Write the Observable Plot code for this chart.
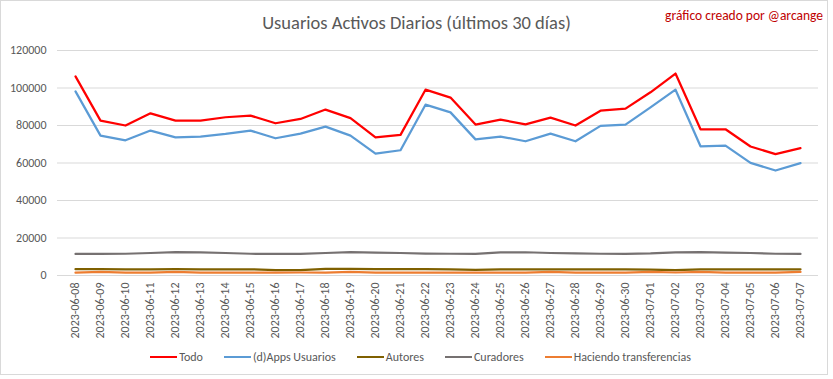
<!DOCTYPE html>
<html>
<head>
<meta charset="utf-8">
<script src="https://cdn.jsdelivr.net/npm/d3@7"></script>
<script src="https://cdn.jsdelivr.net/npm/@observablehq/plot@0.6"></script>
<style>
  body { margin: 0; background: #fff; }
  #chart { position: relative; width: 833px; height: 379px; font-family: Carlito, "Liberation Sans Narrow", "Liberation Sans", sans-serif; overflow: hidden; }
  #frame { position: absolute; left: 0; top: 0; width: 828px; height: 375px; border: 1px solid #d9d9d9; box-sizing: border-box; pointer-events: none; }
  #head { position: relative; height: 40px; }
  #title { position: absolute; left: 0; right: 0; top: 11px; text-align: center; font-size: 18.5px; color: #595959; }
  #credit { position: absolute; right: 10px; top: 7px; font-size: 13.5px; color: #c00000; }
  #legend { display: flex; justify-content: center; gap: 21px; font-size: 12px; color: #595959; margin-top: 5px; margin-left: 8px; }
  .item { display: flex; align-items: center; gap: 2px; }
  .sw { width: 27px; height: 2.5px; display: inline-block; }
</style>
</head>
<body>
<div id="chart">
  <div id="frame"></div>
  <div id="head">
    <div id="title">Usuarios Activos Diarios (últimos 30 días)</div>
    <div id="credit">gráfico creado por @arcange</div>
  </div>
  <div id="plot"></div>
  <div id="legend"></div>
</div>
<script>
const dates = ["2023-06-08","2023-06-09","2023-06-10","2023-06-11","2023-06-12","2023-06-13","2023-06-14","2023-06-15","2023-06-16","2023-06-17","2023-06-18","2023-06-19","2023-06-20","2023-06-21","2023-06-22","2023-06-23","2023-06-24","2023-06-25","2023-06-26","2023-06-27","2023-06-28","2023-06-29","2023-06-30","2023-07-01","2023-07-02","2023-07-03","2023-07-04","2023-07-05","2023-07-06","2023-07-07"];

const todo = [106200,82600,80000,86500,82600,82600,84400,85300,81200,83500,88500,83900,73700,75000,99100,94900,80500,83100,80600,84200,80000,87900,89000,97700,107700,78000,78000,68800,64700,67900];
const dapps = [98200,74600,72100,77300,73700,74100,75500,77300,73200,75700,79400,74600,65000,66800,91100,87000,72600,74100,71600,75700,71600,79800,80500,89700,99100,68900,69300,60100,56000,59900];
const autores = [3400,3400,3300,3300,3400,3300,3300,3300,2900,2900,3500,3500,3400,3400,3400,3300,3000,3300,3300,3300,3300,3300,3300,3100,2900,3300,3300,3300,3300,3300];
const curadores = [11500,11500,11600,12000,12500,12300,12000,11600,11500,11500,12000,12500,12200,12000,11700,11600,11500,12300,12400,12000,11800,11600,11600,11800,12300,12500,12200,12000,11600,11500];
const transferencias = [1500,1900,1500,1500,1900,1500,1500,1500,1500,1600,1500,1900,1500,1500,1500,1500,1500,1500,1500,1900,1500,1500,1500,1900,1600,1900,1500,1500,1500,1900];

const seriesNames = ["Todo","(d)Apps Usuarios","Autores","Curadores","Haciendo transferencias"];
const seriesColors = ["#ff0000","#5b9bd5","#7f6000","#767171","#ed7d31"];
const seriesValues = [todo, dapps, autores, curadores, transferencias];
const yTicks = [0,20000,40000,60000,80000,100000,120000];

const rows = [];
seriesNames.forEach((s, k) => {
  seriesValues[k].forEach((v, i) => rows.push({date: dates[i], value: v, series: s}));
});

const chart = Plot.plot({
  width: 833,
  height: 305,
  marginTop: 10,
  marginBottom: 70,
  marginLeft: 57,
  marginRight: 15,
  style: {fontFamily: 'Carlito, "Liberation Sans Narrow", "Liberation Sans", sans-serif', fontSize: "12px", color: "#595959", background: "transparent"},
  x: {type: "point", domain: dates, padding: 0.5, label: null},
  y: {domain: [0, 120000], label: null},
  color: {domain: seriesNames, range: seriesColors},
  marks: [
    Plot.gridY(yTicks, {stroke: "#d9d9d9", strokeOpacity: 1, strokeWidth: 1}),
    Plot.axisY(yTicks, {tickSize: 0, tickPadding: 11, tickFormat: d => String(d), label: null, fill: "#595959"}),
    Plot.axisX({tickRotate: -90, tickSize: 0, tickPadding: 7, label: null, fill: "#595959"}),
    Plot.lineY(rows, {x: "date", y: "value", z: "series", stroke: "series", strokeWidth: 2.25, strokeLinejoin: "round", strokeLinecap: "round"})
  ]
});
document.getElementById("plot").appendChild(chart);

const legend = document.getElementById("legend");
seriesNames.forEach((s, k) => {
  const it = document.createElement("div");
  it.className = "item";
  const sw = document.createElement("span");
  sw.className = "sw";
  sw.style.background = seriesColors[k];
  const tx = document.createElement("span");
  tx.textContent = s;
  it.appendChild(sw); it.appendChild(tx);
  legend.appendChild(it);
});
</script>
</body>
</html>
